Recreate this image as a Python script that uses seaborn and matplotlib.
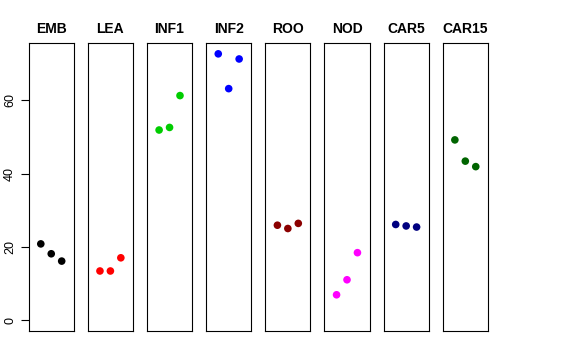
import matplotlib
matplotlib.use("Agg")
import matplotlib.pyplot as plt
import pandas as pd
import seaborn as sns

groups = ["EMB", "LEA", "INF1", "INF2", "ROO", "NOD", "CAR5", "CAR15"]
colors = ["#000000", "#FF0000", "#00CD00", "#0000FF",
          "#8B0000", "#FF00FF", "#000080", "#006400"]
replicate = [1, 2, 3]
emb = [20.8, 18.1, 16.1]
lea = [13.4, 13.4, 17.0]
inf1 = [51.9, 52.6, 61.3]
inf2 = [72.7, 63.2, 71.3]
roo = [25.9, 25.0, 26.4]
nod = [6.9, 11.0, 18.4]
car5 = [26.1, 25.7, 25.4]
car15 = [49.2, 43.4, 41.9]

values = [emb, lea, inf1, inf2, roo, nod, car5, car15]
df = pd.DataFrame({
    "group": [g for g in groups for _ in replicate],
    "rep": replicate * len(groups),
    "value": [v for vals in values for v in vals],
})

sns.set_theme(style="white")
plt.rcParams["font.family"] = ["Liberation Sans", "DejaVu Sans"]
plt.rcParams["text.color"] = "black"
plt.rcParams["ytick.color"] = "black"
plt.rcParams["ytick.labelcolor"] = "black"

g = sns.relplot(data=df, x="rep", y="value", col="group", hue="group",
                col_order=groups, hue_order=groups, palette=colors,
                s=30, linewidth=0, legend=False, height=3, aspect=0.2)
g.figure.set_size_inches(5.76, 3.6)
g.figure.subplots_adjust(left=0.0498, right=0.847, top=0.880, bottom=0.0814, wspace=0.311)

ymax = df["value"].max()
pad = 0.04 * ymax
for i, (ax, name) in enumerate(zip(g.axes.flat, groups)):
    ax.set_xlim(-0.16, 4.16)
    ax.set_ylim(-pad, ymax + pad)
    ax.set_title(name, fontsize=10, fontweight="bold", color="black", pad=7)
    ax.set_xlabel("")
    ax.set_ylabel("")
    ax.set_xticks([])
    for sp in ax.spines.values():
        sp.set_visible(True)
        sp.set_color("black")
        sp.set_linewidth(0.8)
    if i == 0:
        ax.set_yticks([0, 20, 40, 60])
        ax.tick_params(axis="y", left=True, length=6, width=0.8, color="black",
                       labelcolor="black", labelsize=9, pad=3)
        for lab in ax.get_yticklabels():
            lab.set_rotation(90)
            lab.set_va("center")
    else:
        ax.tick_params(axis="y", left=False, labelleft=False)

g.figure.savefig("out.png", dpi=100)
